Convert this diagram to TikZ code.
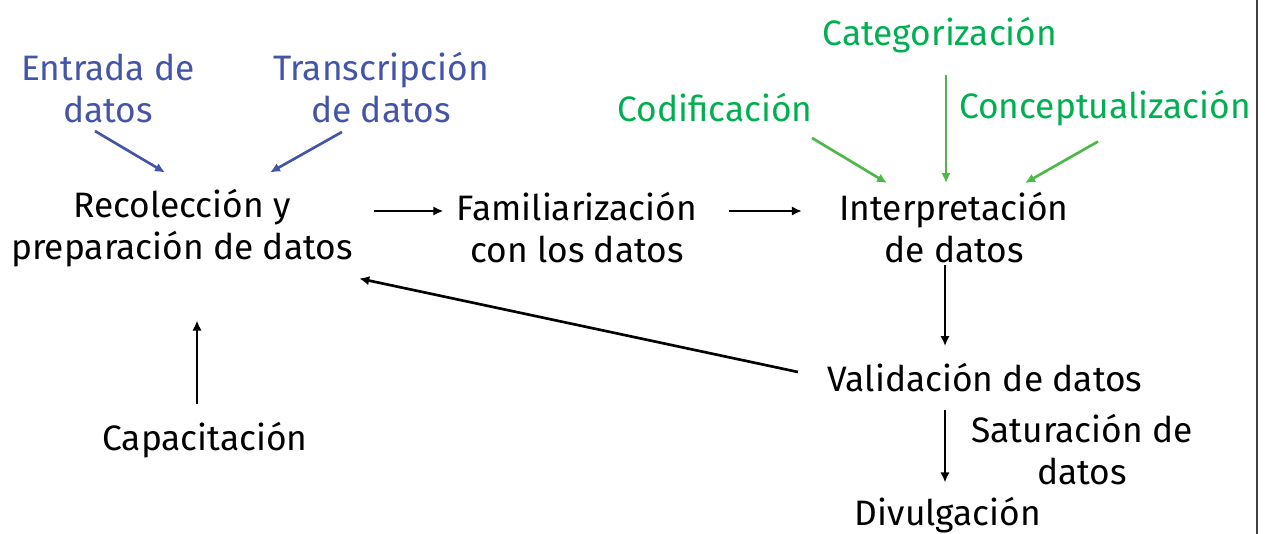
\documentclass[tikz,border=0pt]{standalone}
\usepackage{fontspec}
\setmainfont{Fira Sans}
\usetikzlibrary{arrows.meta}
\definecolor{azul}{RGB}{68,84,166}
\definecolor{verde}{RGB}{0,176,80}
\definecolor{verdeflecha}{RGB}{76,184,72}

\begin{document}
\begin{tikzpicture}[
            x=0.75pt, y=-0.75pt,
            box/.style={align=center, font=\fontsize{26.5}{31.5}\selectfont, inner sep=1pt},
            tag/.style={box, text=azul},
            tagv/.style={box, text=verde},
            flecha/.style={-{Latex[length=7.5pt,width=7pt]}, line width=2pt},
            flechaz/.style={flecha, draw=azul},
            flechav/.style={flecha, draw=verdeflecha}
        ]
        \useasboundingbox (0,0) rectangle (1267,534);

        \node[box] (rec) at (182,228) {Recolección y\\preparación de datos};
        \node[box] (fam) at (577,228) {Familiarización\\con los datos};
        \node[box] (int) at (954,228) {Interpretación\\de datos};
        \node[box] (val) at (985,378) {Validación de datos};
        \node[box] (sat) at (1082,450) {Saturación de\\datos};
        \node[box] (div) at (948,515) {Divulgación};
        \node[box] (cap) at (205,440) {Capacitación};

        \node[tag] (ent) at (108,88) {Entrada de\\datos};
        \node[tag] (tra) at (381,88) {Transcripción\\de datos};

        \node[tagv] (cat) at (940,35) {Categorización};
        \node[tagv] (cod) at (715,108) {Codificación};
        \node[tagv] (con) at (1105,108) {Conceptualización};

        % entradas de la recoleccion
        \draw[flechaz] ([shift={(-13,7)}]ent.south) -- ([shift={(-17,-15)}]rec.north);
        \draw[flechaz] ([shift={(-39,7)}]tra.south) -- ([shift={(88,-15)}]rec.north);

        % flujo principal
        \draw[flecha] ([shift={(20,-17)}]rec.east) -- ([shift={(-12,-17)}]fam.west);
        \draw[flecha] ([shift={(30,-17)}]fam.east) -- ([shift={(-36,-17)}]int.west);

        % entradas de la interpretacion
        \draw[flechav] ([shift={(97,14)}]cod.south) -- ([shift={(-67,-8)}]int.north);
        \draw[flechav] ([shift={(6,20)}]cat.south) -- ([shift={(-8,-8)}]int.north);
        \draw[flechav] ([shift={(-7,14)}]con.south) -- ([shift={(71,-8)}]int.north);

        \draw[flecha] ([shift={(-9,0)}]int.south) -- ([shift={(-40,-16)}]val.north);
        \draw[flecha] ([shift={(-40,16)}]val.south) -- ([shift={(-3,-13)}]div.north);
        \draw[flecha] ([shift={(-28,-6)}]val.west) -- ([shift={(5,10)}]rec.south east);
        \draw[flecha] ([shift={(-8,-16)}]cap.north) -- ([shift={(15,52)}]rec.south);

        \draw[line width=1.5pt, draw=black!75] (1257,0) -- (1257,534);
    \end{tikzpicture}
\end{document}
